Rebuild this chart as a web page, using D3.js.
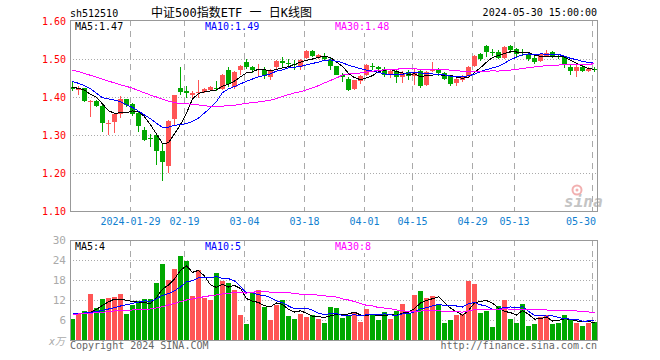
<!DOCTYPE html>
<html>
<head>
<meta charset="utf-8">
<script src="https://cdn.jsdelivr.net/npm/d3@7"></script>
<style>
  body { margin: 0; background: #fff; }
  svg text { font-family: "DejaVu Sans Mono", "Noto Sans CJK SC", monospace; }
</style>
</head>
<body>
<div id="chart"></div>
<script>
// trading days shown, 2024
const dates = [
  '01-15','01-16','01-17','01-18','01-19','01-22','01-23','01-24','01-25','01-26','01-29','01-30','01-31',
  '02-01','02-02','02-05','02-06','02-07','02-08','02-19','02-20','02-21','02-22','02-23','02-26','02-27','02-28','02-29',
  '03-01','03-04','03-05','03-06','03-07','03-08','03-11','03-12','03-13','03-14','03-15','03-18','03-19','03-20','03-21','03-22',
  '03-25','03-26','03-27','03-28','03-29','04-01','04-02','04-03','04-08','04-09','04-10','04-11','04-12','04-15','04-16','04-17',
  '04-18','04-19','04-22','04-23','04-24','04-25','04-26','04-29','04-30','05-06','05-07','05-08','05-09','05-10','05-13','05-14',
  '05-15','05-16','05-17','05-20','05-21','05-22','05-23','05-24','05-27','05-28','05-29','05-30'
];

const open = [
  1.427,1.420,1.423,1.389,1.390,1.377,1.331,1.333,1.356,1.394,1.382,1.358,1.312,1.291,1.300,1.257,1.219,1.342,1.424,1.417,
  1.406,1.410,1.413,1.419,1.425,1.421,1.472,1.426,1.472,1.491,1.478,1.470,1.472,1.452,1.478,1.496,1.490,1.487,1.479,1.503,
  1.522,1.503,1.509,1.498,1.481,1.459,1.448,1.421,1.441,1.459,1.482,1.479,1.474,1.459,1.468,1.452,1.465,1.454,1.468,1.431,
  1.469,1.472,1.463,1.454,1.437,1.444,1.454,1.482,1.514,1.534,1.519,1.518,1.503,1.535,1.526,1.518,1.511,1.503,1.494,1.509,
  1.518,1.509,1.504,1.480,1.469,1.480,1.469,1.474
];
const high = [
  1.439,1.428,1.425,1.391,1.392,1.379,1.340,1.357,1.402,1.396,1.385,1.360,1.320,1.303,1.303,1.278,1.340,1.405,1.478,1.428,
  1.415,1.444,1.424,1.428,1.443,1.461,1.479,1.468,1.483,1.501,1.481,1.487,1.478,1.474,1.497,1.504,1.500,1.498,1.500,1.523,
  1.523,1.514,1.516,1.503,1.482,1.463,1.453,1.446,1.457,1.488,1.490,1.481,1.479,1.472,1.472,1.468,1.472,1.477,1.472,1.468,
  1.491,1.476,1.465,1.456,1.450,1.459,1.481,1.511,1.516,1.536,1.526,1.523,1.533,1.538,1.529,1.526,1.516,1.507,1.516,1.524,
  1.520,1.514,1.507,1.485,1.483,1.486,1.480,1.478
];
const low = [
  1.416,1.406,1.386,1.348,1.375,1.307,1.300,1.305,1.345,1.375,1.350,1.307,1.283,1.268,1.222,1.178,1.199,1.327,1.406,1.397,
  1.393,1.397,1.410,1.415,1.415,1.418,1.426,1.421,1.459,1.474,1.463,1.455,1.448,1.446,1.474,1.478,1.479,1.470,1.470,1.501,
  1.505,1.501,1.494,1.470,1.457,1.440,1.416,1.419,1.434,1.456,1.470,1.463,1.453,1.450,1.437,1.437,1.446,1.432,1.424,1.429,
  1.465,1.454,1.446,1.428,1.429,1.439,1.453,1.479,1.494,1.505,1.507,1.500,1.500,1.515,1.503,1.507,1.496,1.488,1.491,1.507,
  1.503,1.500,1.476,1.458,1.453,1.465,1.465,1.465
];
const close = [
  1.420,1.422,1.389,1.390,1.377,1.331,1.332,1.356,1.396,1.378,1.354,1.325,1.288,1.289,1.257,1.228,1.336,1.404,1.412,1.410,
  1.410,1.412,1.422,1.426,1.424,1.459,1.435,1.466,1.481,1.478,1.470,1.473,1.456,1.468,1.496,1.489,1.489,1.486,1.498,1.520,
  1.507,1.511,1.500,1.481,1.459,1.452,1.419,1.444,1.454,1.483,1.481,1.474,1.459,1.468,1.453,1.463,1.454,1.467,1.430,1.467,
  1.471,1.463,1.448,1.434,1.447,1.454,1.478,1.507,1.500,1.518,1.518,1.503,1.532,1.525,1.514,1.517,1.500,1.491,1.514,1.516,
  1.508,1.505,1.483,1.469,1.480,1.469,1.475,1.470
];
// volume, x10k lots
const volume = [
  6.3,7.7,8.7,13.8,9.6,12.3,12.7,13.0,13.8,7.8,10.5,11.7,12.3,12.3,17.1,22.8,18.0,21.4,25.2,23.7,
  13.2,21.0,12.7,12.0,20.0,17.7,17.1,15.0,7.5,4.8,14.0,15.0,10.0,6.0,10.5,12.0,7.2,6.3,7.8,7.0,
  7.5,6.3,5.2,10.0,9.7,6.7,7.5,8.0,5.5,9.3,7.8,6.0,8.4,6.3,8.7,10.8,7.8,13.5,14.7,12.7,
  13.2,10.7,5.1,6.0,7.5,7.8,17.7,16.8,8.1,8.8,3.9,10.1,12.0,6.3,5.1,10.8,4.3,4.8,7.0,7.5,
  4.8,5.1,7.5,6.0,5.1,4.2,5.1,5.4
];

// moving-average values before the window fills
const priceMa5Head = [1.425, 1.423, 1.418, 1.407];
const priceMa10Head = [1.441, 1.436, 1.430, 1.422, 1.410, 1.398, 1.395, 1.392, 1.388];
const priceMa30Head = [1.471,1.467,1.462,1.457,1.452,1.447,1.442,1.437,1.432,1.428,1.423,1.417,1.411,1.405,1.400,
  1.394,1.389,1.385,1.383,1.382,1.381,1.379,1.377,1.375,1.375,1.376,1.377,1.378,1.381];
const volMa5Head = [8.0, 8.0, 8.0, 8.3];
const volMa10Head = [8.0, 8.0, 8.1, 8.3, 8.5, 8.9, 9.3, 9.7, 10.2];
const volMa30Head = [7.7,7.8,7.9,8.0,8.2,8.3,8.5,8.7,8.8,8.9,9.0,9.1,9.2,9.3,9.6,10.0,10.5,11.0,11.5,12.0,
  12.3,12.7,13.0,13.3,13.5,13.8,14.0,14.2,14.3];

const priceTicks = [1.10, 1.20, 1.30, 1.40, 1.50, 1.60];
const volTicks = [6, 12, 18, 24, 30];
const tickDates = ['01-29','02-19','03-04','03-18','04-01','04-15','04-29','05-13','05-30'];
const tickLabels = ['2024-01-29','02-19','03-04','03-18','04-01','04-15','04-29','05-13','05-30'];
const priceMaLabels = ['MA5:1.47', 'MA10:1.49', 'MA30:1.48'];
const volMaLabels = ['MA5:4', 'MA10:5', 'MA30:8'];
const maColors = ['#000000', '#0000ff', '#ff00ff'];

const RED = '#ff5555', GREEN = '#00a800';
const L = 70, R = 598;
const P = { top: 20, bottom: 211 };
const V = { top: 240, bottom: 340 };

const svg = d3.select('#chart').append('svg')
  .attr('width', 660).attr('height', 360)
  .attr('shape-rendering', 'crispEdges');

const x = d3.scaleBand().domain(dates).range([L, R])
  .paddingInner(1 / 6).paddingOuter(1 / 12).align(0);
const yP = d3.scaleLinear().domain([1.10, 1.60]).range([211, 21]);
const yV = d3.scaleLinear().domain([0, 30]).range([340, 240]);
const cx = d => x(d) + 2.5;
const isUp = i => close[i] >= open[i];

function movingAvg(vals, n, head) {
  return vals.map((v, i) => i < n - 1 ? head[i] : d3.mean(vals.slice(i - n + 1, i + 1)));
}

// header
svg.append('text').attr('x', 70).attr('y', 17).attr('font-size', 10).text('sh512510');
svg.append('text').attr('x', 151).attr('y', 17).attr('font-size', 12).text('中证500指数ETF 一 日K线图');
svg.append('text').attr('x', 597).attr('y', 16).attr('font-size', 10)
  .attr('text-anchor', 'end').text('2024-05-30 15:00:00');

function grid(top, bottom, yScale, gridVals) {
  const g = svg.append('g');
  g.selectAll('.h').data(gridVals).join('line')
    .attr('x1', L).attr('x2', R)
    .attr('y1', d => Math.round(yScale(d)) + 0.5).attr('y2', d => Math.round(yScale(d)) + 0.5)
    .attr('stroke', '#aaa').attr('stroke-dasharray', '1,2');
  g.selectAll('.v').data(tickDates).join('line')
    .attr('x1', d => x(d) + 0.5).attr('x2', d => x(d) + 0.5)
    .attr('y1', top).attr('y2', bottom)
    .attr('stroke', '#aaa').attr('stroke-dasharray', '6,5');
}

grid(P.top, P.bottom, yP, priceTicks.slice(1, -1));
grid(V.top, V.bottom, yV, volTicks.slice(0, -1));

// sina watermark
const logo = svg.append('g').attr('shape-rendering', 'auto');
logo.append('circle').attr('cx', 577).attr('cy', 190).attr('r', 4.5)
  .attr('fill', 'none').attr('stroke', '#f2b0b0').attr('stroke-width', 2);
logo.append('circle').attr('cx', 577).attr('cy', 190).attr('r', 1.5).attr('fill', '#f2b0b0');
logo.append('text').attr('x', 564).attr('y', 207)
  .attr('font-family', 'DejaVu Sans').attr('font-style', 'italic').attr('font-weight', 'bold')
  .attr('font-size', 16).attr('fill', '#c4c4c4').text('sina');

// candles
const candles = svg.append('g').selectAll('g').data(dates).join('g')
  .attr('fill', (d, i) => isUp(i) ? RED : GREEN);
candles.append('rect')
  .attr('x', d => x(d) + 2).attr('width', 1)
  .attr('y', (d, i) => Math.round(yP(high[i])))
  .attr('height', (d, i) => Math.max(1, Math.round(yP(low[i])) - Math.round(yP(high[i]))));
candles.append('rect')
  .attr('x', d => x(d)).attr('width', x.bandwidth())
  .attr('y', (d, i) => Math.round(yP(Math.max(open[i], close[i]))))
  .attr('height', (d, i) => Math.max(1, Math.round(yP(Math.min(open[i], close[i]))) - Math.round(yP(Math.max(open[i], close[i])))));

// volume bars
svg.append('g').selectAll('rect').data(dates).join('rect')
  .attr('x', d => x(d)).attr('width', x.bandwidth())
  .attr('y', (d, i) => Math.round(yV(volume[i])))
  .attr('height', (d, i) => V.bottom - Math.round(yV(volume[i])))
  .attr('fill', (d, i) => isUp(i) ? RED : GREEN);

// MA lines
function maLines(vals, heads, yScale) {
  [5, 10, 30].forEach((n, k) => {
    const series = movingAvg(vals, n, heads[k]);
    const line = d3.line().x((v, i) => cx(dates[i])).y(v => yScale(v));
    svg.append('path').datum(series)
      .attr('d', line).attr('fill', 'none')
      .attr('stroke', maColors[k]).attr('stroke-width', 1);
  });
}
maLines(close, [priceMa5Head, priceMa10Head, priceMa30Head], yP);
maLines(volume, [volMa5Head, volMa10Head, volMa30Head], yV);

// MA legends with white backing
function legend(labels, baseline) {
  labels.forEach((t, k) => {
    const g = svg.append('g');
    const bg = g.append('rect').attr('fill', '#fff');
    const txt = g.append('text').attr('x', 75 + k * 130).attr('y', baseline)
      .attr('font-size', 10).attr('fill', maColors[k]).text(t);
    const b = txt.node().getBBox();
    bg.attr('x', b.x - 2).attr('y', baseline - 10).attr('width', b.width + 4).attr('height', 13);
  });
}
legend(priceMaLabels, 30);
legend(volMaLabels, 250);

// frames
svg.append('rect').attr('x', L + 0.5).attr('y', P.top + 0.5)
  .attr('width', R - L - 1).attr('height', P.bottom - P.top)
  .attr('fill', 'none').attr('stroke', '#999');
svg.append('rect').attr('x', L + 0.5).attr('y', V.top + 0.5)
  .attr('width', R - L - 1).attr('height', V.bottom - V.top)
  .attr('fill', 'none').attr('stroke', '#999');

// axis labels
svg.append('g').selectAll('text').data(priceTicks).join('text')
  .attr('x', 66).attr('y', d => yP(d) + 4)
  .attr('text-anchor', 'end').attr('font-size', 10).attr('fill', '#ff0000')
  .text(d => d.toFixed(2));
svg.append('g').selectAll('text').data(volTicks).join('text')
  .attr('x', 66).attr('y', d => yV(d) + 4)
  .attr('text-anchor', 'end').attr('font-size', 11).attr('fill', '#aaa')
  .text(d => d);
svg.append('text').attr('x', 49).attr('y', 345).attr('font-size', 10)
  .attr('fill', '#aaa').attr('font-style', 'italic').text('x万');
// date labels centred on their line, kept inside the frame at the right end
svg.append('g').selectAll('text').data(tickDates).join('text')
  .attr('x', d => Math.min(x(d) + 0.5, R - 17))
  .attr('y', 225)
  .attr('text-anchor', 'middle').attr('font-size', 10).attr('fill', '#1080d0')
  .text((d, i) => tickLabels[i]);

// footer
svg.append('text').attr('x', 70).attr('y', 349).attr('font-size', 10)
  .attr('fill', '#666').text('Copyright 2024 SINA.COM');
svg.append('text').attr('x', 597).attr('y', 349).attr('font-size', 10)
  .attr('text-anchor', 'end').attr('fill', '#666').text('http://finance.sina.com.cn');
</script>
</body>
</html>
